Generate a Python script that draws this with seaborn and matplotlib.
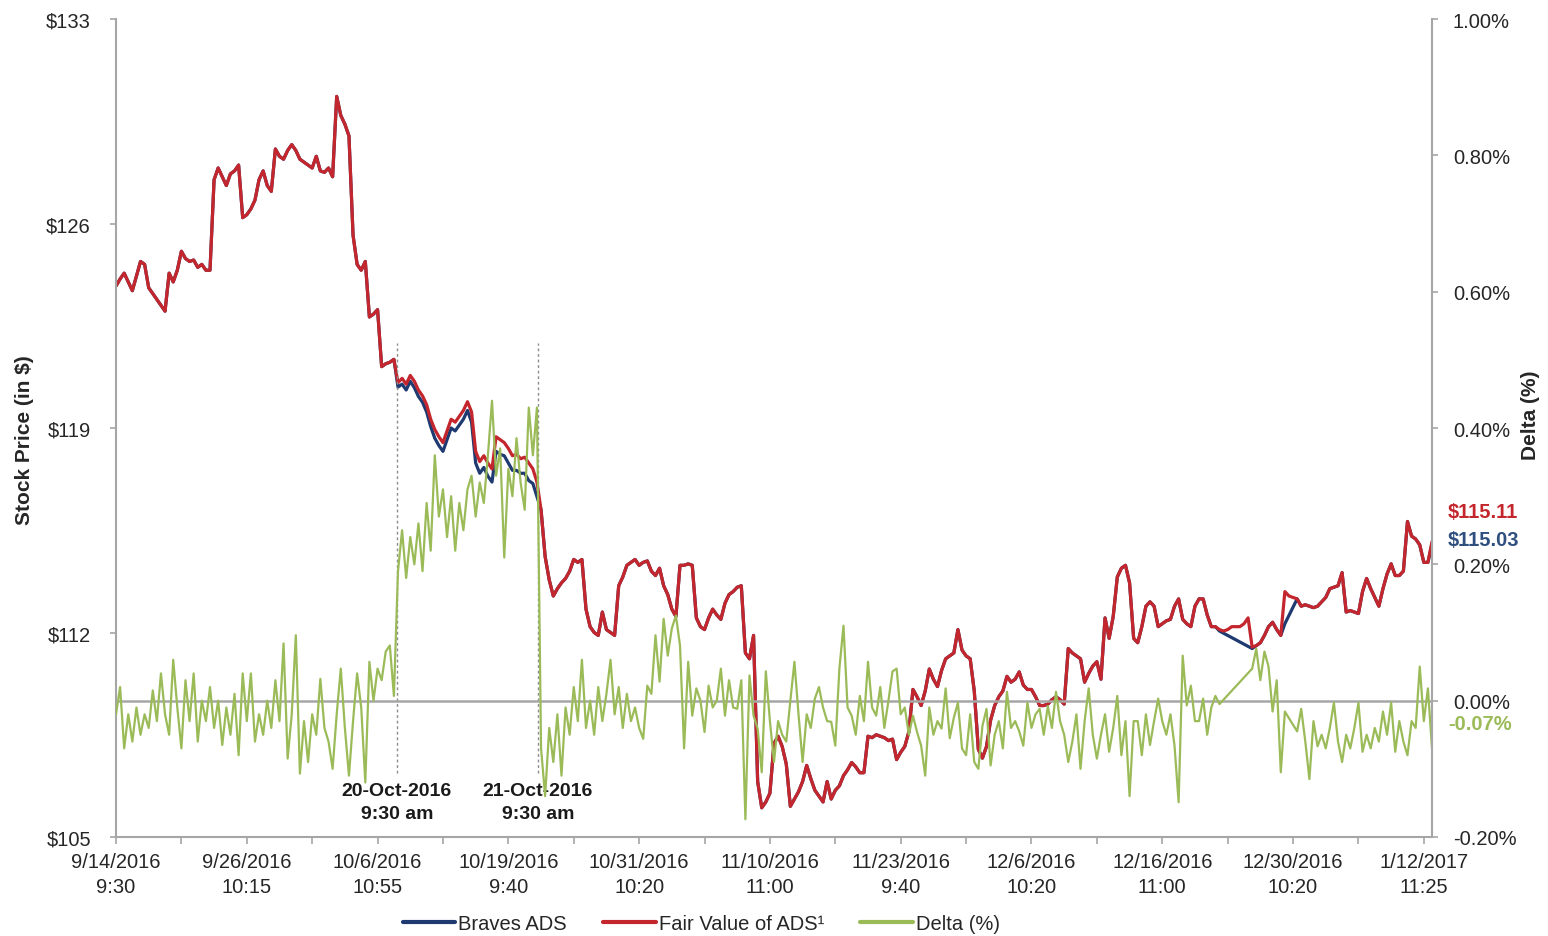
import numpy as np
import pandas as pd
import matplotlib
matplotlib.use("Agg")
import matplotlib.pyplot as plt
import seaborn as sns

# Category labels shown under every second tick (one tick every 16 observations)
time_labels = [
    "9/14/2016\n9:30", "9/26/2016\n10:15", "10/6/2016\n10:55", "10/19/2016\n9:40",
    "10/31/2016\n10:20", "11/10/2016\n11:00", "11/23/2016\n9:40", "12/6/2016\n10:20",
    "12/16/2016\n11:00", "12/30/2016\n10:20", "1/12/2017\n11:25",
]

# Fair value of the ADS (in $)
fair_value = [
    123.86, 124.1, 124.3, 124.0, 123.7, 124.2, 124.7, 124.6, 123.8, 123.6, 123.4, 123.2, 123.0, 124.3, 124.0, 124.4,
    125.05, 124.8, 124.7, 124.75, 124.5, 124.6, 124.4, 124.4, 127.5, 127.9, 127.6, 127.3, 127.7, 127.8, 128.0, 126.2,
    126.3, 126.5, 126.8, 127.5, 127.8, 127.3, 127.1, 128.55, 128.3, 128.2, 128.5, 128.7, 128.5, 128.2, 128.1, 128.0,
    127.9, 128.3, 127.8, 127.75, 127.9, 127.6, 130.35, 129.7, 129.4, 129.0, 125.6, 124.6, 124.4, 124.7, 122.8, 122.9,
    123.05, 121.1, 121.2, 121.25, 121.35, 120.55, 120.7, 120.5, 120.8, 120.6, 120.3, 120.1, 119.8, 119.3, 118.95, 118.7,
    118.5, 118.9, 119.3, 119.2, 119.4, 119.6, 119.9, 119.55, 118.2, 117.85, 118.05, 117.8, 117.6, 118.7, 118.6, 118.5,
    118.3, 118.05, 118.1, 117.95, 118.0, 117.8, 117.6, 117.15, 116.2, 114.6, 113.8, 113.25, 113.5, 113.7, 113.85, 114.1,
    114.5, 114.4, 114.5, 112.8, 112.2, 112.0, 111.9, 112.7, 112.1, 112.0, 111.9, 113.6, 113.9, 114.3, 114.4, 114.5,
    114.3, 114.4, 114.45, 114.1, 113.95, 114.2, 113.6, 113.3, 112.8, 112.55, 114.3, 114.3, 114.35, 114.3, 112.5, 112.2,
    112.1, 112.5, 112.8, 112.6, 112.45, 113.0, 113.3, 113.4, 113.55, 113.6, 111.3, 111.1, 111.9, 106.9, 106.0, 106.2,
    106.5, 108.2, 108.45, 108.1, 107.5, 106.05, 106.3, 106.55, 106.9, 107.45, 107.0, 106.6, 106.4, 106.2, 106.9, 106.3,
    106.6, 106.75, 107.1, 107.3, 107.55, 107.4, 107.2, 107.2, 108.45, 108.4, 108.5, 108.45, 108.4, 108.3, 108.35, 107.65,
    107.9, 108.1, 108.6, 110.05, 109.8, 109.5, 110.0, 110.75, 110.4, 110.15, 110.7, 111.1, 111.2, 111.3, 112.1, 111.4,
    111.2, 111.1, 110.0, 108.0, 107.7, 108.1, 109.0, 109.5, 109.8, 110.0, 110.5, 110.3, 110.4, 110.65, 110.2, 110.05,
    110.05, 109.8, 109.5, 109.5, 109.55, 109.7, 109.8, 109.7, 109.55, 111.45, 111.3, 111.2, 111.1, 110.3, 110.6, 110.85,
    111.0, 110.4, 112.5, 111.8, 112.55, 113.9, 114.2, 114.3, 113.7, 111.8, 111.65, 112.2, 112.9, 113.05, 112.9, 112.2,
    112.3, 112.4, 112.45, 112.9, 113.15, 112.45, 112.3, 112.2, 112.9, 113.15, 113.15, 112.6, 112.2, 112.2, 112.1, 112.05,
    112.1, 112.2, 112.2, 112.2, 112.3, 112.5, 111.5, 111.55, 111.65, 111.9, 112.2, 112.35, 112.1, 111.9, 113.4, 113.25,
    113.2, 113.15, 112.9, 112.95, 112.9, 112.85, 112.9, 113.05, 113.2, 113.5, 113.55, 113.6, 114.05, 112.7, 112.75, 112.7,
    112.65, 113.4, 113.85, 113.5, 113.2, 112.9, 113.5, 114.0, 114.35, 113.95, 113.95, 114.1, 115.8, 115.3, 115.2, 115.0,
    114.4, 114.4, 115.11,
]

# Braves ADS traded price (in $); NaN where no quote was recorded
nan = np.nan
braves_ads = [
    123.86, 124.1, 124.3, 124.0, 123.7, 124.2, 124.7, 124.6, 123.8, 123.6, 123.4, 123.2, 123.0, 124.3, 124.0, 124.4,
    125.05, 124.8, 124.7, 124.75, 124.5, 124.6, 124.4, 124.4, 127.5, 127.9, 127.6, 127.3, 127.7, 127.8, 128.0, 126.2,
    126.3, 126.5, 126.8, 127.5, 127.8, 127.3, 127.1, 128.55, 128.3, 128.2, 128.5, 128.7, 128.5, 128.2, 128.1, 128.0,
    127.9, 128.3, 127.8, 127.75, 127.9, 127.6, 130.35, 129.7, 129.4, 129.0, 125.6, 124.6, 124.4, 124.7, 122.8, 122.9,
    123.05, 121.1, 121.2, 121.25, 121.35, 120.40, 120.50, 120.30, 120.60, 120.38, 120.08, 119.88, 119.55, 119.05, 118.65, 118.40,
    118.20, 118.60, 119.00, 118.90, 119.10, 119.30, 119.60, 119.20, 117.80, 117.45, 117.65, 117.35, 117.15, 118.20, 118.10, 118.05,
    117.80, 117.55, 117.55, 117.45, 117.45, 117.20, 117.10, 116.65, 116.2, 114.6, 113.8, 113.25, 113.5, 113.7, 113.85, 114.1,
    114.5, 114.4, 114.5, 112.8, 112.2, 112.0, 111.9, 112.7, 112.1, 112.0, 111.9, 113.6, 113.9, 114.3, 114.4, 114.5,
    114.3, 114.4, 114.45, 114.1, 113.95, 114.2, 113.6, 113.3, 112.8, 112.55, 114.3, 114.3, 114.35, 114.3, 112.5, 112.2,
    112.1, 112.5, 112.8, 112.6, 112.45, 113.0, 113.3, 113.4, 113.55, 113.6, 111.3, 111.1, 111.9, 106.9, 106.0, 106.2,
    106.5, 108.2, 108.45, 108.1, 107.5, 106.05, 106.3, 106.55, 106.9, 107.45, 107.0, 106.6, 106.4, 106.2, 106.9, 106.3,
    106.6, 106.75, 107.1, 107.3, 107.55, 107.4, 107.2, 107.2, 108.45, 108.4, 108.5, 108.45, 108.4, 108.3, 108.35, 107.65,
    107.9, 108.1, 108.6, 110.05, 109.8, 109.5, 110.0, 110.75, 110.4, 110.15, 110.7, 111.1, 111.2, 111.3, 112.1, 111.4,
    111.2, 111.1, 110.0, 108.0, 107.7, 108.1, 109.0, 109.5, 109.8, 110.0, 110.5, 110.3, 110.4, 110.65, 110.2, 110.05,
    110.05, 109.8, 109.5, 109.5, 109.55, 109.7, 109.8, 109.7, 109.55, 111.45, 111.3, 111.2, 111.1, 110.3, 110.6, 110.85,
    111.0, 110.4, 112.5, 111.8, 112.55, 113.9, 114.2, 114.3, 113.7, 111.8, 111.65, 112.2, 112.9, 113.05, 112.9, 112.2,
    112.3, 112.4, 112.45, 112.9, 113.15, 112.45, 112.3, 112.2, 112.9, 113.15, 113.15, 112.6, 112.2, 112.2, 112.05, nan,
    nan, nan, nan, nan, nan, nan, 111.45, 111.55, 111.65, 111.9, 112.2, 112.35, 112.1, 111.9, 112.3, nan,
    nan, 113.15, 112.9, 112.95, 112.9, 112.85, 112.9, 113.05, 113.2, 113.5, 113.55, 113.6, 114.05, 112.7, 112.75, 112.7,
    112.65, 113.4, 113.85, 113.5, 113.2, 112.9, 113.5, 114.0, 114.35, 113.95, 113.95, 114.1, 115.8, 115.3, 115.2, 115.0,
    114.4, 114.4, 115.03,
]

# Delta between fair value and ADS price (in %)
delta_pct = [
    -0.02, 0.02, -0.07, -0.02, -0.06, -0.01, -0.05, -0.02, -0.04, 0.015, -0.03, 0.04, -0.02, -0.05, 0.06, -0.01,
    -0.07, 0.03, -0.03, 0.04, -0.06, 0.0, -0.03, 0.02, -0.04, 0.0, -0.065, -0.01, -0.05, 0.01, -0.08, 0.04,
    -0.03, 0.04, -0.06, -0.02, -0.05, 0.0, -0.04, 0.03, -0.03, 0.084, -0.085, -0.02, 0.096, -0.107, -0.03, -0.09,
    -0.02, -0.05, 0.032, -0.04, -0.06, -0.1, -0.02, 0.047, -0.04, -0.11, -0.03, 0.04, -0.01, -0.12, 0.057, 0.0,
    0.047, 0.03, 0.072, 0.081, 0.007, 0.19, 0.25, 0.18, 0.24, 0.20, 0.26, 0.19, 0.29, 0.22, 0.36, 0.27,
    0.31, 0.24, 0.30, 0.22, 0.29, 0.25, 0.31, 0.33, 0.27, 0.32, 0.29, 0.36, 0.44, 0.33, 0.37, 0.21,
    0.34, 0.30, 0.385, 0.32, 0.28, 0.43, 0.36, 0.43, -0.07, -0.14, -0.04, -0.09, -0.02, -0.11, -0.01, -0.05,
    0.02, -0.03, 0.06, -0.04, 0.0, -0.05, 0.02, -0.03, 0.01, 0.06, -0.02, 0.02, -0.04, 0.01, -0.03, -0.01,
    -0.04, -0.056, 0.022, 0.01, 0.096, 0.028, 0.12, 0.066, 0.106, 0.125, 0.081, -0.07, 0.057, -0.022, 0.018, 0.0,
    -0.046, 0.022, -0.01, 0.0, 0.047, -0.022, 0.03, -0.01, -0.012, 0.03, -0.174, 0.037, -0.022, -0.041, -0.105, 0.043,
    -0.03, -0.09, -0.03, -0.05, -0.06, 0.0, 0.057, -0.02, -0.09, -0.02, -0.04, 0.003, 0.02, -0.01, -0.03, -0.031,
    -0.066, 0.047, 0.11, -0.01, -0.022, -0.05, 0.007, -0.03, 0.057, -0.01, -0.022, 0.02, -0.04, 0.0, 0.043, 0.047,
    -0.02, -0.01, -0.05, -0.022, -0.046, -0.066, -0.11, -0.01, -0.05, -0.03, -0.041, 0.018, -0.055, -0.025, -0.003, -0.07,
    -0.08, -0.02, -0.09, -0.10, -0.037, -0.012, -0.095, -0.05, -0.03, -0.07, 0.013, -0.04, -0.03, -0.045, -0.066, -0.003,
    -0.04, -0.02, -0.012, -0.05, -0.008, -0.04, 0.013, -0.03, -0.05, -0.09, -0.06, -0.02, -0.1, -0.03, 0.018, -0.05,
    -0.085, -0.05, -0.02, -0.075, -0.04, 0.007, -0.08, -0.03, -0.14, -0.03, -0.03, -0.08, -0.02, -0.065, -0.03, 0.003,
    -0.03, -0.05, -0.02, -0.066, -0.149, 0.066, -0.007, 0.022, -0.03, -0.03, 0.003, -0.05, -0.01, 0.007, -0.005, nan,
    nan, nan, nan, nan, nan, nan, 0.047, 0.076, 0.03, 0.072, 0.05, -0.016, 0.03, -0.105, -0.016, nan,
    nan, -0.045, -0.012, -0.06, -0.115, -0.03, -0.067, -0.05, -0.07, -0.04, -0.003, -0.06, -0.09, -0.05, -0.07, -0.04,
    -0.003, -0.075, -0.05, -0.07, -0.04, -0.06, -0.016, -0.05, -0.003, -0.075, -0.03, -0.06, -0.08, -0.03, -0.04, 0.05,
    -0.03, 0.018, -0.07,
]

price_ticks = [105, 112, 119, 126, 133]
delta_ticks = [-0.2, 0.0, 0.2, 0.4, 0.6, 0.8, 1.0]

# Announcement events (observation index) marked by dotted lines
event_obs = [68.75, 103.25]
event_labels = ["20-Oct-2016\n9:30 am", "21-Oct-2016\n9:30 am"]

series_names = ["Braves ADS", "Fair Value of ADS\u00b9", "Delta (%)"]

RED = "#c4262d"
BLUE = "#1f3a70"
GREEN = "#9bbb59"
AXIS_GREY = "#a6a6a6"
TEXT = "#262626"

sns.set_theme(style="white")
plt.rcParams["font.family"] = ["Liberation Sans", "DejaVu Sans"]

n = len(fair_value)
df = pd.DataFrame({
    "obs": np.arange(n),
    "fair": fair_value,
    "ads": braves_ads,
    "delta": delta_pct,
})

fig = plt.figure(figsize=(15.48, 9.37), dpi=100)
ax = fig.add_axes([116 / 1548, 1 - 838 / 937, 1316 / 1548, 818 / 937])
ax2 = ax.twinx()

# Price lines on the left axis (gaps in the ADS series are bridged)
sns.lineplot(data=df[["obs", "ads"]].dropna(), x="obs", y="ads", ax=ax,
             color=BLUE, lw=2.3, legend=False)
sns.lineplot(data=df[["obs", "fair"]], x="obs", y="fair", ax=ax,
             color=RED, lw=2.3, legend=False)

# Delta on the right axis
ax2.axhline(0, color=AXIS_GREY, lw=1.8, zorder=0)
sns.lineplot(data=df[["obs", "delta"]].dropna(), x="obs", y="delta", ax=ax2,
             color=GREEN, lw=1.6, legend=False)

# Event markers
ax.vlines(event_obs, 107.2, 121.9, colors="#8c8c8c", linestyles=(0, (2, 2)), lw=1.0)
for xo, lab in zip(event_obs, event_labels):
    ax.text(xo, 106.2, lab, ha="center", va="center", fontsize=14,
            fontweight="bold", color="#1a1a1a", linespacing=1.45)

# Axes limits and ticks
ax.set_xlim(0, n - 1)
xt = np.arange(0, n, 16)
ax.set_xticks(xt)
ax.set_xticklabels([time_labels[k // 2] if k % 2 == 0 else "" for k in range(len(xt))])
ax.set_ylim(price_ticks[0], price_ticks[-1])
ax.set_yticks(price_ticks)
ax.set_yticklabels([f"${v}" for v in price_ticks])
ax2.set_ylim(delta_ticks[0], delta_ticks[-1])
ax2.set_yticks(delta_ticks)
ax2.set_yticklabels([f"{v:.2f}%" for v in delta_ticks])

ax.set_xlabel("")
ax.set_ylabel("Stock Price (in $)", fontsize=15, fontweight="bold", color=TEXT)
ax.yaxis.set_label_coords(-0.062, 0.487)
ax2.set_ylabel("Delta (%)", fontsize=15, fontweight="bold", color=TEXT)
ax2.yaxis.set_label_coords(1.068, 0.517)

for a in (ax, ax2):
    a.grid(False)
    a.spines["top"].set_visible(False)
ax.spines["right"].set_visible(False)
ax2.spines["left"].set_visible(False)
ax2.spines["bottom"].set_visible(False)
for sp in ("left", "bottom"):
    ax.spines[sp].set_color(AXIS_GREY)
    ax.spines[sp].set_linewidth(1.5)
ax2.spines["right"].set_color(AXIS_GREY)
ax2.spines["right"].set_linewidth(1.5)

ax.tick_params(axis="x", bottom=True, direction="out", length=5, width=1.2,
               color=AXIS_GREY, pad=6, labelsize=14.5, labelcolor=TEXT)
ax.tick_params(axis="y", left=True, direction="out", length=4, width=1.2,
               color=AXIS_GREY, pad=14, labelsize=14.5, labelcolor=TEXT)
ax2.tick_params(axis="y", right=True, direction="out", length=4, width=1.2,
                color=AXIS_GREY, pad=11, labelsize=14.5, labelcolor=TEXT)
for lbl in ax.get_xticklabels():
    lbl.set_linespacing(1.4)

# End-of-period value labels
lx = 1448 / 1548
fig.text(lx, 1 - 513 / 937, f"${fair_value[-1]:.2f}", color=RED, fontsize=14.5,
         fontweight="bold", va="center", ha="left")
fig.text(lx, 1 - 540 / 937, f"${braves_ads[-1]:.2f}", color="#2f4f7f", fontsize=14.5,
         fontweight="bold", va="center", ha="left")
fig.text(lx, 1 - 725 / 937, f"{delta_pct[-1]:.2f}%", color=GREEN, fontsize=14.5,
         fontweight="bold", va="center", ha="left")

# Legend
handles = [ax.get_lines()[0], ax.get_lines()[1], ax2.get_lines()[-1]]
leg = fig.legend(handles, series_names, loc="center", bbox_to_anchor=(0.453, 0.0135),
                 ncol=3, frameon=False, fontsize=14.5, handlelength=2.6,
                 handletextpad=0.15, columnspacing=1.8)
for t in leg.get_texts():
    t.set_color(TEXT)
for h in leg.legend_handles:
    h.set_linewidth(3.0)

fig.savefig("out.png", dpi=100, facecolor="white")
